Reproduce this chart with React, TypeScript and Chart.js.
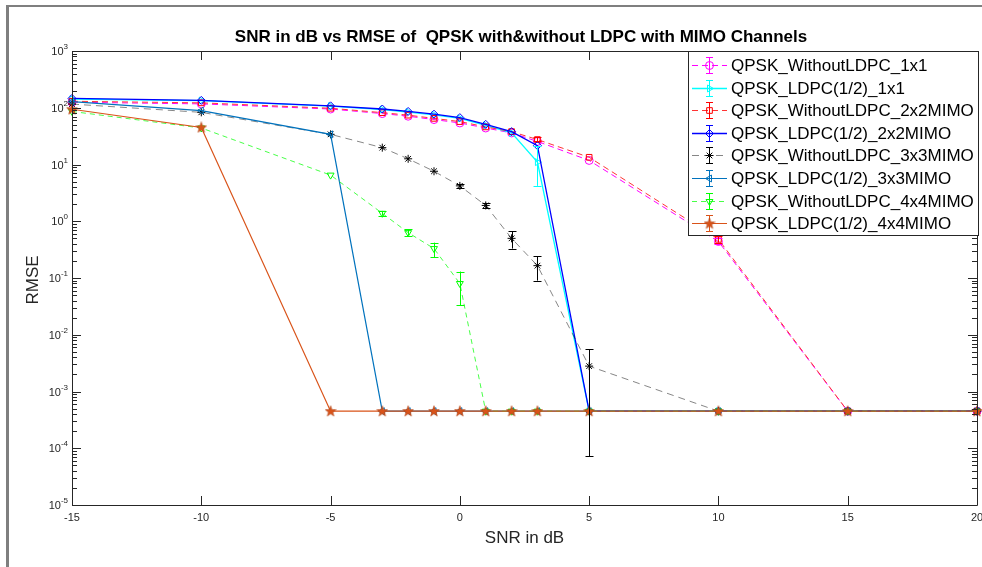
import React, { useEffect, useRef } from 'react';
import { Chart, registerables } from 'chart.js';
import { drawPoint } from 'chart.js/helpers';

Chart.register(...registerables);

// ---------------- data ----------------
const snr = [-15, -10, -5, -3, -2, -1, 0, 1, 2, 3, 5, 10, 15, 20];
const F = 4.5e-4;

const rmseWithoutLDPC1x1 = [125, 117, 95, 79, 71, 62, 54, 44, 36, 25.5, 11.8, 0.44, F, F];
const rmseLDPC1x1 = [142, 134, 107, 93, 84, 75, 65, 49, 36, 11, F, F, F, F];
const rmseWithoutLDPC2x2 = [130, 122, 98, 82, 74, 65, 57, 46, 38, 27.5, 13.4, 0.48, F, F];
const rmseLDPC2x2 = [146, 135, 108, 95, 86, 77, 67, 51, 38, 21.5, F, F, F, F];
const rmseWithoutLDPC3x3 = [116, 83, 34, 19.8, 12.6, 7.6, 4.2, 1.9, 0.5, 0.165, 2.8e-3, F, F, F];
const rmseLDPC3x3 = [128, 89, 34, F, F, F, F, F, F, F, F, F, F, F];
const rmseWithoutLDPC4x4 = [86, 44, 6.5, 1.38, 0.63, 0.33, 0.08, F, F, F, F, F, F, F];
const rmseLDPC4x4 = [94, 45, F, F, F, F, F, F, F, F, F, F, F, F];

// error bars: [snr, low, high]
const errWithoutLDPC1x1 = [[10, 0.4, 0.5]];
const errLDPC1x1 = [[3, 4.2, 21]];
const errWithoutLDPC2x2 = [[3, 25.5, 30], [10, 0.42, 0.55]];
const errLDPC2x2: number[][] = [];
const errWithoutLDPC3x3 = [[0, 3.9, 4.5], [1, 1.7, 2.1], [2, 0.33, 0.66], [3, 0.09, 0.24], [5, 7.3e-5, 5.5e-3]];
const errLDPC3x3: number[][] = [];
const errWithoutLDPC4x4 = [[-3, 1.25, 1.52], [-2, 0.56, 0.72], [-1, 0.23, 0.42], [0, 0.033, 0.13]];
const errLDPC4x4: number[][] = [];

const seriesNames = [
  'QPSK_WithoutLDPC_1x1',
  'QPSK_LDPC(1/2)_1x1',
  'QPSK_WithoutLDPC_2x2MIMO',
  'QPSK_LDPC(1/2)_2x2MIMO',
  'QPSK_WithoutLDPC_3x3MIMO',
  'QPSK_LDPC(1/2)_3x3MIMO',
  'QPSK_WithoutLDPC_4x4MIMO',
  'QPSK_LDPC(1/2)_4x4MIMO',
];
const seriesValues = [
  rmseWithoutLDPC1x1, rmseLDPC1x1, rmseWithoutLDPC2x2, rmseLDPC2x2,
  rmseWithoutLDPC3x3, rmseLDPC3x3, rmseWithoutLDPC4x4, rmseLDPC4x4,
];
const seriesErrors = [
  errWithoutLDPC1x1, errLDPC1x1, errWithoutLDPC2x2, errLDPC2x2,
  errWithoutLDPC3x3, errLDPC3x3, errWithoutLDPC4x4, errLDPC4x4,
];

const xTicks = [-15, -10, -5, 0, 5, 10, 15, 20];
const yTickExponents = [3, 2, 1, 0, -1, -2, -3, -4, -5];

const chartTitle = 'SNR in dB vs RMSE of  QPSK with&without LDPC with MIMO Channels';
const xAxisTitle = 'SNR in dB';
const yAxisTitle = 'RMSE';

// ---------------- styles ----------------
const seriesStyles = [
  { color: '#FF00FF', line: '#FF00FF', width: 1, dash: [6, 4], marker: 'circle', rot: 0 },
  { color: '#00FFFF', line: '#00FFFF', width: 1.3, dash: [], marker: 'triangle', rot: 90 },
  { color: '#FF0000', line: '#FF3333', width: 1, dash: [6, 4], marker: 'rect', rot: 0 },
  { color: '#0000FF', line: '#0000FF', width: 1.3, dash: [], marker: 'rectRot', rot: 0 },
  { color: '#000000', line: 'rgba(0,0,0,0.6)', width: 0.8, dash: [7, 5], marker: 'star', rot: 0 },
  { color: '#0072BD', line: '#0072BD', width: 1.2, dash: [], marker: 'triangle', rot: -90 },
  { color: '#00FF00', line: '#33FF33', width: 0.9, dash: [5, 4], marker: 'triangle', rot: 180 },
  { color: '#D95319', line: '#D95319', width: 1.2, dash: [], marker: 'pentagram', rot: 0 },
];

const FONT = '"Liberation Sans", Arial, Helvetica, sans-serif';
const AXIS_COLOR = '#262626';

function makePentagram(color: string): HTMLCanvasElement {
  const c = document.createElement('canvas');
  c.width = 12;
  c.height = 12;
  const g = c.getContext('2d')!;
  const cx = 6, cy = 6.3, R = 5.6, r = 2.3;
  g.beginPath();
  for (let k = 0; k < 10; k++) {
    const rad = k % 2 === 0 ? R : r;
    const a = -Math.PI / 2 + (k * Math.PI) / 5;
    const px = cx + rad * Math.cos(a);
    const py = cy + rad * Math.sin(a);
    if (k === 0) g.moveTo(px, py);
    else g.lineTo(px, py);
  }
  g.closePath();
  g.fillStyle = color;
  g.fill();
  g.strokeStyle = '#B04010';
  g.lineWidth = 0.6;
  g.stroke();
  return c;
}

const errorBarPlugin = {
  id: 'errorBars',
  afterDatasetsDraw(chart: any) {
    const { ctx } = chart;
    const xs = chart.scales.x;
    const ys = chart.scales.y;
    ctx.save();
    seriesErrors.forEach((errs, i) => {
      const st = seriesStyles[i];
      ctx.strokeStyle = st.color;
      ctx.lineWidth = 1;
      ctx.setLineDash([]);
      errs.forEach(([x, lo, hi]) => {
        const px = Math.round(xs.getPixelForValue(x)) + 0.5;
        const p1 = ys.getPixelForValue(lo);
        const p2 = ys.getPixelForValue(hi);
        ctx.beginPath();
        ctx.moveTo(px, p1);
        ctx.lineTo(px, p2);
        ctx.moveTo(px - 4, Math.round(p1) + 0.5);
        ctx.lineTo(px + 4, Math.round(p1) + 0.5);
        ctx.moveTo(px - 4, Math.round(p2) + 0.5);
        ctx.lineTo(px + 4, Math.round(p2) + 0.5);
        ctx.stroke();
      });
    });
    ctx.restore();
  },
};

const matlabPlugin = {
  id: 'matlabFrame',
  beforeDraw(chart: any) {
    const { ctx, width, height } = chart;
    ctx.save();
    ctx.fillStyle = '#ffffff';
    ctx.fillRect(0, 0, width, height);
    ctx.fillStyle = '#7f7f7f';
    ctx.fillRect(6, 5, 3, height - 5);
    ctx.fillRect(6, 5, width - 6, 2);
    ctx.restore();
  },
  afterDraw(chart: any, _args: any, opts: any) {
    const { ctx, chartArea } = chart;
    const xs = chart.scales.x;
    const ys = chart.scales.y;
    const L = chartArea.left, R = chartArea.right, T = chartArea.top, B = chartArea.bottom;
    ctx.save();
    ctx.setLineDash([]);
    // axes box
    ctx.strokeStyle = AXIS_COLOR;
    ctx.lineWidth = 1;
    ctx.beginPath();
    ctx.moveTo(L + 0.5, T + 0.5);
    ctx.lineTo(L + 0.5, B + 0.5);
    ctx.lineTo(R + 0.5, B + 0.5);
    ctx.lineTo(R + 0.5, T + 0.5);
    ctx.closePath();
    ctx.stroke();

    // x ticks
    ctx.beginPath();
    xTicks.forEach((v) => {
      const px = Math.round(xs.getPixelForValue(v)) + 0.5;
      ctx.moveTo(px, B);
      ctx.lineTo(px, B - 9);
      ctx.moveTo(px, T);
      ctx.lineTo(px, T + 9);
    });
    // y ticks
    for (let e = -5; e <= 3; e++) {
      const py = Math.round(ys.getPixelForValue(Math.pow(10, e))) + 0.5;
      ctx.moveTo(L, py);
      ctx.lineTo(L + 9, py);
      ctx.moveTo(R, py);
      ctx.lineTo(R - 9, py);
      if (e < 3) {
        for (let m = 2; m <= 9; m++) {
          const pm = Math.round(ys.getPixelForValue(m * Math.pow(10, e))) + 0.5;
          ctx.moveTo(L, pm);
          ctx.lineTo(L + 5, pm);
          ctx.moveTo(R, pm);
          ctx.lineTo(R - 5, pm);
        }
      }
    }
    ctx.stroke();

    // x tick labels
    ctx.fillStyle = AXIS_COLOR;
    ctx.font = `11px ${FONT}`;
    ctx.textAlign = 'center';
    ctx.textBaseline = 'middle';
    xTicks.forEach((v) => {
      ctx.fillText(String(v), xs.getPixelForValue(v), B + 13);
    });

    // y tick labels 10^n
    yTickExponents.forEach((e) => {
      const py = ys.getPixelForValue(Math.pow(10, e));
      ctx.font = `8px ${FONT}`;
      ctx.textAlign = 'right';
      const ex = String(e);
      const ew = ctx.measureText(ex).width;
      const right = L - 4;
      ctx.fillText(ex, right, py - 4);
      ctx.font = `11px ${FONT}`;
      ctx.fillText('10', right - ew, py + 1);
    });

    // axis titles
    ctx.font = `17px ${FONT}`;
    ctx.textAlign = 'center';
    ctx.fillText(xAxisTitle, (L + R) / 2, B + 33);
    ctx.save();
    ctx.translate(33, (T + B) / 2 + 2);
    ctx.rotate(-Math.PI / 2);
    ctx.fillText(yAxisTitle, 0, 0);
    ctx.restore();

    // title
    ctx.fillStyle = '#000';
    ctx.font = `bold 17px ${FONT}`;
    ctx.fillText(chartTitle, 521, 37);

    // legend
    const lx = 688, ly = T, lw = R + 1 - lx, lh = 184;
    ctx.fillStyle = '#fff';
    ctx.fillRect(lx, ly, lw, lh);
    ctx.strokeStyle = AXIS_COLOR;
    ctx.lineWidth = 1;
    ctx.strokeRect(lx + 0.5, ly + 0.5, lw, lh);
    const star = opts.star;
    seriesNames.forEach((name, i) => {
      const st = seriesStyles[i];
      const cy = Math.round(ly + 14 + i * 22.6) + 0.5;
      ctx.strokeStyle = st.line;
      ctx.lineWidth = st.width;
      ctx.setLineDash(st.dash);
      ctx.beginPath();
      ctx.moveTo(692, cy);
      ctx.lineTo(727, cy);
      ctx.stroke();
      ctx.setLineDash([]);
      ctx.strokeStyle = st.color;
      ctx.lineWidth = 1;
      ctx.beginPath();
      ctx.moveTo(709.5, cy - 8);
      ctx.lineTo(709.5, cy + 8);
      ctx.moveTo(706, cy - 8);
      ctx.lineTo(713, cy - 8);
      ctx.moveTo(706, cy + 8);
      ctx.lineTo(713, cy + 8);
      ctx.stroke();
      ctx.fillStyle = 'rgba(0,0,0,0)';
      drawPoint(ctx, {
        pointStyle: st.marker === 'pentagram' ? star : st.marker,
        rotation: st.rot,
        radius: 4,
        borderWidth: 1,
      } as any, 709.5, cy);
      ctx.fillStyle = '#000';
      ctx.font = `17px ${FONT}`;
      ctx.textAlign = 'left';
      ctx.textBaseline = 'middle';
      ctx.fillText(name, 731, cy + 1);
    });
    ctx.restore();
  },
};

export default function App() {
  const ref = useRef<HTMLCanvasElement>(null);
  useEffect(() => {
    const canvas = ref.current;
    if (!canvas) return;
    const star = makePentagram('#D95319');
    const datasets = seriesNames.map((name, i) => {
      const st = seriesStyles[i];
      return {
        label: name,
        data: snr.map((x, j) => ({ x, y: seriesValues[i][j] })),
        borderColor: st.line,
        borderWidth: st.width,
        borderDash: st.dash,
        pointStyle: st.marker === 'pentagram' ? star : st.marker,
        pointRotation: st.rot,
        pointRadius: 4,
        pointHoverRadius: 4,
        pointBorderColor: st.color,
        pointBackgroundColor: 'rgba(0,0,0,0)',
        pointBorderWidth: 1,
        fill: false,
        tension: 0,
        clip: false,
        order: -i,
      };
    });
    const chart = new Chart(canvas, {
      type: 'line',
      data: { datasets } as any,
      options: {
        responsive: false,
        animation: false,
        devicePixelRatio: 1,
        layout: { padding: { left: 72, right: 4, top: 51, bottom: 62 } },
        scales: {
          x: { type: 'linear', min: -15, max: 20, display: false },
          y: { type: 'logarithmic', min: 1e-5, max: 1e3, display: false },
        },
        plugins: {
          legend: { display: false },
          title: { display: false },
          tooltip: { enabled: false },
          matlabFrame: { star },
        } as any,
        events: [],
      },
      plugins: [matlabPlugin, errorBarPlugin],
    });
    return () => chart.destroy();
  }, []);
  return (
    <div style={{ position: 'fixed', left: 0, top: 0, width: 982, height: 567, background: '#fff' }}>
      <canvas ref={ref} width={982} height={567} style={{ display: 'block', width: 982, height: 567 }} />
    </div>
  );
}
